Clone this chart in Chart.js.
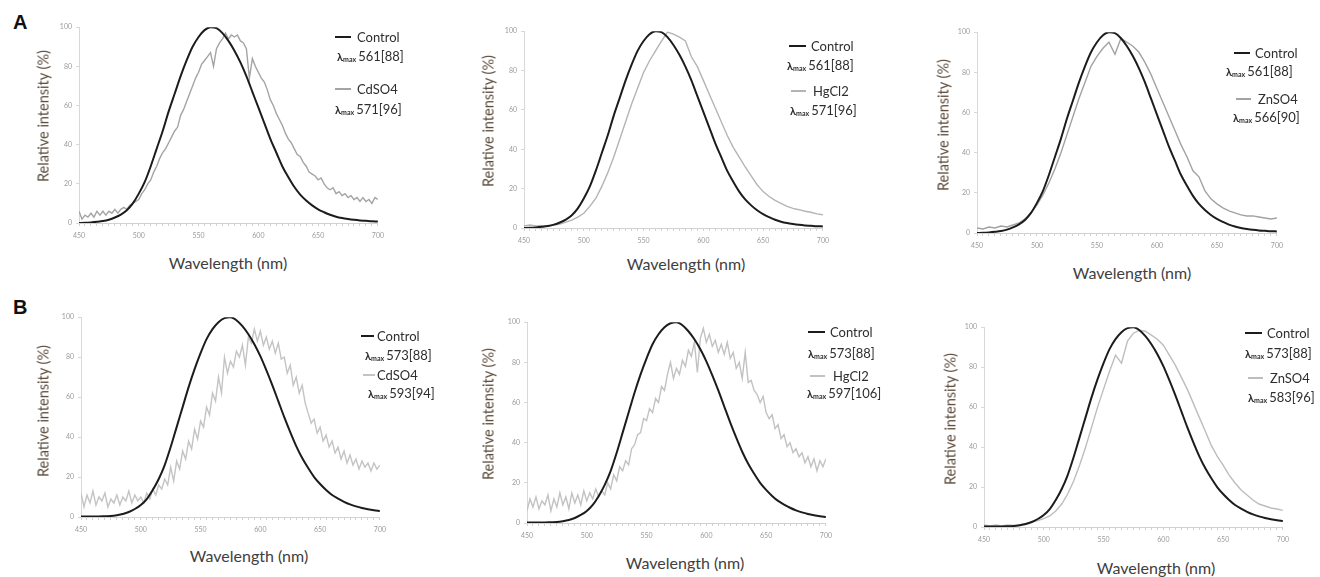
<!DOCTYPE html>
<html>
<head>
<meta charset="utf-8">
<title>Emission spectra</title>
<script src="https://cdn.jsdelivr.net/npm/chart.js@4.4.1/dist/chart.umd.min.js"></script>
<style>
  body { margin: 0; width: 1320px; height: 577px; background: #fff; position: relative; overflow: hidden; font-family: Lato, "Open Sans", sans-serif; }
  .box { position: absolute; }
  .txt { position: absolute; white-space: nowrap; transform: translateY(-50%); color: #2e2e2e; font-size: 13px; line-height: 1; }
  .lam b { font-weight: 700; font-size: 11px; }
  .lam sub { font-size: 7px; font-weight: 700; vertical-align: -1px; margin-right: 2px; }
  .seg { position: absolute; }
  .ytitle { position: absolute; white-space: nowrap; transform: translate(-50%, -50%) rotate(-90deg); color: #5a4a3a; font-size: 14.5px; }
  .xtitle { position: absolute; white-space: nowrap; transform: translate(-50%, -50%); color: #404040; font-size: 16px; }
  .letter { position: absolute; font-family: "Liberation Sans", Arial, sans-serif; font-weight: bold; font-size: 20px; color: #111; }
</style>
</head>
<body>
<div class="letter" style="left:13px;top:11px;">A</div>
<div class="letter" style="left:13px;top:296px;">B</div>
<script>
// wavelength grids (nm)
const wl5 = [450, 455, 460, 465, 470, 475, 480, 485, 490, 495,
  500, 505, 510, 515, 520, 525, 530, 535, 540, 545,
  550, 555, 560, 565, 570, 575, 580, 585, 590, 595,
  600, 605, 610, 615, 620, 625, 630, 635, 640, 645,
  650, 655, 660, 665, 670, 675, 680, 685, 690, 695, 700];
const wl25 = [450, 452.5, 455, 457.5, 460, 462.5, 465, 467.5, 470, 472.5,
  475, 477.5, 480, 482.5, 485, 487.5, 490, 492.5, 495, 497.5,
  500, 502.5, 505, 507.5, 510, 512.5, 515, 517.5, 520, 522.5,
  525, 527.5, 530, 532.5, 535, 537.5, 540, 542.5, 545, 547.5,
  550, 552.5, 555, 557.5, 560, 562.5, 565, 567.5, 570, 572.5,
  575, 577.5, 580, 582.5, 585, 587.5, 590, 592.5, 595, 597.5,
  600, 602.5, 605, 607.5, 610, 612.5, 615, 617.5, 620, 622.5,
  625, 627.5, 630, 632.5, 635, 637.5, 640, 642.5, 645, 647.5,
  650, 652.5, 655, 657.5, 660, 662.5, 665, 667.5, 670, 672.5,
  675, 677.5, 680, 682.5, 685, 687.5, 690, 692.5, 695, 697.5, 700];

const xTickLabels = [450, 500, 550, 600, 650, 700];
const yTickLabels = [0, 20, 40, 60, 80, 100];

// Row A control (lambda max 561)
const controlA = [0, 0.1, 0.3, 0.6, 1, 1.7, 2.8, 4.3, 6.5, 10,
  15, 21, 29, 38, 47, 57, 66, 75, 83, 90,
  95, 98.5, 100, 99.5, 97, 93, 88, 82, 75, 67,
  59, 51, 43, 36, 29, 23.5, 18.5, 14.5, 11.5, 9,
  7, 5.5, 4.2, 3.2, 2.5, 2, 1.6, 1.3, 1.1, 0.9, 0.8];

// Row B control (lambda max 573)
const controlB = [0.3, 0.3, 0.3, 0.3, 0.4, 0.5, 0.9, 1.5, 2.5, 4,
  6, 9, 13.5, 19, 26, 35, 45, 55, 65, 74,
  82, 89, 94, 97.5, 99.5, 100, 98.5, 95.5, 91.5, 86.5,
  80.5, 73.5, 66, 58, 50, 42.5, 35.5, 29.5, 24.5, 20,
  16.5, 13.5, 11, 9.2, 7.6, 6.3, 5.3, 4.5, 3.9, 3.4, 3];

// Row A treatments
const cdA = [6, 2, 4, 3, 5, 3, 6, 4, 6, 4,
  6, 5, 7, 5, 7, 8, 7, 9, 10, 11,
  12, 15, 17, 20, 22, 26, 29, 33, 36, 38,
  41, 44, 47, 49, 55, 58, 62, 66, 70, 74,
  77, 81, 83, 85, 87, 80, 89, 92, 94, 97,
  94, 96, 95, 96, 93, 92, 89, 74, 84, 80,
  77, 74, 72, 68, 63, 60, 56, 53, 50, 46,
  43, 41, 38, 35, 34, 31, 29, 26, 25, 24,
  22, 23, 20, 18, 17, 18, 15, 16, 14, 15,
  13, 14, 12, 13, 11, 13, 11, 12, 10, 13, 12];
const hgA = [1, 1.5, 1, 1.2, 1, 1.5, 2, 3, 4, 5.5,
  7.5, 11, 15, 21, 28, 36, 45, 54, 63, 71,
  79, 85, 90, 95, 99.5, 98.5, 97, 95, 87, 82,
  75, 68, 61, 54, 47, 41, 36, 31, 26.5, 22,
  18.5, 16, 14, 12.5, 11, 10, 9.3, 8.5, 8, 7.2, 6.7];
const znA = [2.5, 2, 3, 2.5, 3.5, 3, 4, 5, 7, 10,
  14, 19, 25, 32, 40, 49, 58, 67, 75, 83,
  88, 92, 95, 89, 97, 95, 93, 90, 85, 79,
  72, 65, 58, 51, 44, 38, 31, 28, 21, 17,
  14.5, 12.5, 11, 10, 9, 8.5, 8.5, 8, 7.5, 7, 7.5];

// Row B treatments
const cdB = [12, 5, 11, 7, 13, 6, 10, 8, 12, 5,
  9, 7, 11, 6, 10, 8, 13, 7, 11, 8,
  10, 7, 12, 9, 14, 11, 16, 14, 19, 16,
  25, 18, 28, 24, 33, 29, 38, 34, 44, 39,
  48, 45, 55, 51, 62, 58, 70, 62, 80, 72,
  78, 75, 83, 80, 86, 76, 90, 87, 94, 88,
  93, 86, 90, 84, 88, 82, 87, 79, 80, 72,
  76, 66, 70, 62, 66, 57, 52, 47, 49, 42,
  45, 38, 41, 35, 38, 32, 35, 29, 33, 27,
  31, 26, 29, 24, 28, 25, 27, 23, 27, 24, 26];
const hgB = [6, 12, 8, 13, 7, 11, 9, 14, 6, 12,
  8, 15, 9, 13, 7, 15, 10, 14, 9, 16,
  11, 15, 12, 17, 13, 16, 14, 20, 17, 24,
  21, 28, 26, 31, 29, 37, 39, 44, 45, 52,
  51, 57, 55, 62, 60, 68, 66, 74, 80, 72,
  77, 74, 81, 78, 86, 83, 90, 75, 92, 97,
  90, 94, 88, 91, 85, 89, 84, 90, 82, 85,
  77, 80, 72, 85, 70, 71, 66, 64, 60, 63,
  55, 52, 54, 47, 49, 42, 44, 38, 40, 35,
  37, 33, 35, 30, 33, 28, 32, 26, 31, 28, 32];
const znB = [1, 0.5, 1, 0.5, 1, 0.8, 1.2, 1.8, 2.5, 3.2,
  4.2, 5.5, 8, 11.5, 16.5, 23, 31, 40, 50, 60,
  69, 78, 86, 82, 93, 97, 98.5, 98, 96, 94,
  91, 86, 81, 75, 69, 62, 55, 48, 41, 35.5,
  31, 26, 22, 18.5, 16, 13.5, 11.5, 10.5, 9.5, 9, 8.3];

const treatNames = ['CdSO4', 'HgCl2', 'ZnSO4'];
const lambdaCtrlA = '561[88]';
const lambdaCtrlB = '573[88]';
const lambdaTreatA = ['571[96]', '571[96]', '566[90]'];
const lambdaTreatB = ['593[94]', '597[106]', '583[96]'];

// panel layout: plot area [left, right, top, bottom], legend anchors, title centres
const panels = [
  { plot: [79, 384, 27, 223], ctrl: controlA, ctrlX: wl5, treat: cdA, treatX: wl25, gray: '#a4a4a4',
    name: treatNames[0], lc: lambdaCtrlA, lt: lambdaTreatA[0],
    leg: { c: [335, 37, 16, 357], l1: [337, 56], t: [335, 89, 16, 357], l2: [335, 109] },
    yt: [43, 116], xt: [228, 262] },
  { plot: [524, 829, 31, 228], ctrl: controlA, ctrlX: wl5, treat: hgA, treatX: wl5, gray: '#b4b4b4',
    name: treatNames[1], lc: lambdaCtrlA, lt: lambdaTreatA[1],
    leg: { c: [789, 46, 17, 811], l1: [787, 65], t: [791, 91, 15, 813], l2: [790, 110] },
    yt: [488, 121], xt: [686, 263] },
  { plot: [977, 1283, 32, 233], ctrl: controlA, ctrlX: wl5, treat: znA, treatX: wl5, gray: '#a2a2a2',
    name: treatNames[2], lc: lambdaCtrlA, lt: lambdaTreatA[2],
    leg: { c: [1234, 53, 16, 1255], l1: [1226, 71], t: [1236, 99, 15, 1258], l2: [1233, 117] },
    yt: [943, 125], xt: [1132, 272] },
  { plot: [81, 386, 317, 517], ctrl: controlB, ctrlX: wl5, treat: cdB, treatX: wl25, gray: '#c4c4c4',
    name: treatNames[0], lc: lambdaCtrlB, lt: lambdaTreatB[0],
    leg: { c: [361, 336, 13, 377], l1: [365, 355], t: [363, 375, 12, 377], l2: [368, 393] },
    yt: [43, 411], xt: [249, 555] },
  { plot: [527, 832, 322, 523], ctrl: controlB, ctrlX: wl5, treat: hgB, treatX: wl25, gray: '#c2c2c2',
    name: treatNames[1], lc: lambdaCtrlB, lt: lambdaTreatB[1],
    leg: { c: [808, 332, 17, 830], l1: [808, 353], t: [810, 376, 15, 833], l2: [807, 393] },
    yt: [488, 414], xt: [685, 562] },
  { plot: [984, 1289, 327, 527], ctrl: controlB, ctrlX: wl5, treat: znB, treatX: wl5, gray: '#bdbdbd',
    name: treatNames[2], lc: lambdaCtrlB, lt: lambdaTreatB[2],
    leg: { c: [1245, 333, 17, 1267], l1: [1245, 353], t: [1248, 378, 15, 1270], l2: [1248, 397] },
    yt: [950, 419], xt: [1156, 567] }
];

function toXY(xs, ys) {
  return xs.map((x, i) => ({ x: x, y: ys[i] }));
}

function addEl(cls, html, left, top) {
  const d = document.createElement('div');
  d.className = cls;
  d.innerHTML = html;
  d.style.left = left + 'px';
  d.style.top = top + 'px';
  document.body.appendChild(d);
  return d;
}

function addSeg(x, y, len, color, w) {
  const d = document.createElement('div');
  d.className = 'seg';
  d.style.left = x + 'px';
  d.style.top = (y - w / 2) + 'px';
  d.style.width = len + 'px';
  d.style.height = w + 'px';
  d.style.background = color;
  document.body.appendChild(d);
}

function lambdaHtml(v) {
  return '<span class="lam"><b>λ</b><sub>max</sub></span>' + v;
}

function drawPanel(p) {
  const [L, R, T, B] = p.plot;
  const box = document.createElement('div');
  box.className = 'box';
  box.style.left = (L - 40) + 'px';
  box.style.top = (T - 8) + 'px';
  box.style.width = (R - L + 46) + 'px';
  box.style.height = (B - T + 32) + 'px';
  const cv = document.createElement('canvas');
  box.appendChild(cv);
  document.body.appendChild(box);

  new Chart(cv, {
    type: 'line',
    data: {
      datasets: [
        { label: 'Control', data: toXY(p.ctrlX, p.ctrl), borderColor: '#1c1c1c', borderWidth: 2,
          tension: 0.35, cubicInterpolationMode: 'monotone', pointRadius: 0 },
        { label: p.name, data: toXY(p.treatX, p.treat), borderColor: p.gray, borderWidth: 1.4,
          tension: 0, pointRadius: 0 }
      ]
    },
    options: {
      animation: false,
      responsive: true,
      maintainAspectRatio: false,
      layout: { padding: { top: 8, right: 6, left: 0, bottom: 0 } },
      plugins: { legend: { display: false }, tooltip: { enabled: false } },
      scales: {
        x: {
          type: 'linear', min: 450, max: 700,
          afterFit: s => { s.height = 24; },
          border: { color: '#d2d2d2' },
          grid: { drawOnChartArea: false, tickLength: 3, color: '#d2d2d2' },
          ticks: {
            stepSize: 5, autoSkip: false, maxRotation: 0, maxTicksLimit: 100, padding: 6,
            color: '#9a9a9a', font: { size: 7, family: 'Lato' },
            callback: v => xTickLabels.includes(v) ? String(v) : ''
          }
        },
        y: {
          min: 0, max: 100,
          afterFit: s => { s.width = 40; },
          border: { color: '#d8d8d8' },
          grid: { drawOnChartArea: false, tickLength: 3, color: '#d8d8d8' },
          ticks: {
            stepSize: 20, padding: 4, color: '#9a9a9a', font: { size: 7, family: 'Lato' },
            callback: v => yTickLabels.includes(v) ? String(v) : ''
          }
        }
      }
    }
  });

  // axis titles
  addEl('ytitle', 'Relative intensity (%)', p.yt[0], p.yt[1]);
  addEl('xtitle', 'Wavelength (nm)', p.xt[0], p.xt[1]);

  // legend
  const g = p.leg;
  addSeg(g.c[0], g.c[1], g.c[2], '#1c1c1c', 2.5);
  addEl('txt', 'Control', g.c[3], g.c[1]);
  addEl('txt', lambdaHtml(p.lc), g.l1[0], g.l1[1]);
  addSeg(g.t[0], g.t[1], g.t[2], p.gray, 2);
  addEl('txt', p.name, g.t[3], g.t[1]);
  addEl('txt', lambdaHtml(p.lt), g.l2[0], g.l2[1]);
}

panels.forEach(drawPanel);
</script>
</body>
</html>
